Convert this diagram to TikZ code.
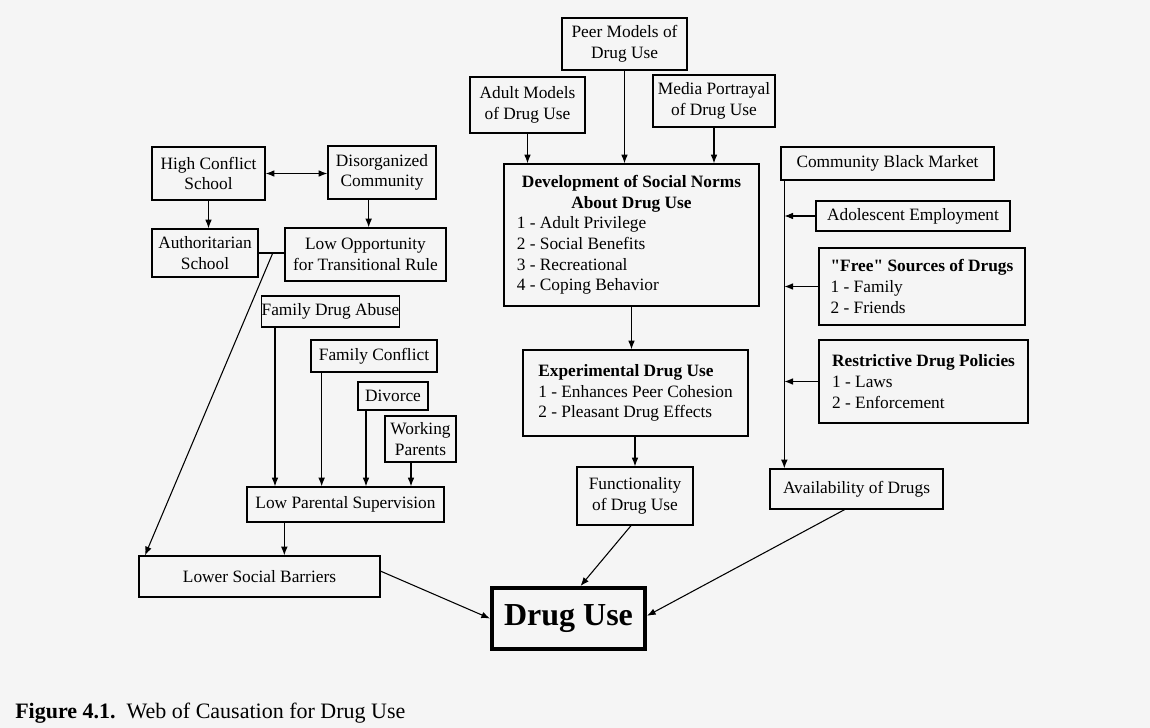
\documentclass[tikz,border=0pt]{standalone}
\usepackage{fontspec}
\setmainfont{Liberation Serif}
\usetikzlibrary{calc,arrows.meta}
\newcommand{\sq}{\XeTeXglyph\XeTeXglyphindex "quotedbl"\relax}
\begin{document}
\begin{tikzpicture}[x=0.75pt,y=-0.75pt,
  rect/.style n args={4}{at={({(#1+#3)/2},{(#2+#4)/2})}, minimum width={(#3-#1)*0.75pt}, minimum height={(#4-#2)*0.75pt}},
  box/.style={draw, line width=1pt, inner sep=0pt, align=center, font=\fontsize{13}{15.5}\selectfont},
  lbox/.style={box, align=left},
  arr/.style={line width=0.8pt, -{Latex[length=6.5pt,width=5pt]}},
  dbl/.style={line width=0.8pt, {Latex[length=6.5pt,width=5pt]}-{Latex[length=6.5pt,width=5pt]}},
  ln/.style={line width=0.8pt}]
\fill[black!4] (0,0) rectangle (1150,728);
\useasboundingbox (0,0) rectangle (1150,728);

% top cluster
\node[box, rect={562}{18}{687}{70}] (pm) {Peer Models of\\Drug Use};
\node[box, rect={470}{77}{585}{133}] (am) {Adult Models\\of Drug Use};
\node[box, rect={653}{75}{775}{127}] (mp) {Media Portrayal\\of Drug Use};
\node[box, rect={504}{164}{759}{306}] (sn) {\begin{minipage}{172pt}\centering\bfseries Development of Social Norms\\About Drug Use\par\raggedright\mdseries 1 - Adult Privilege\\2 - Social Benefits\\3 - Recreational\\4 - Coping Behavior\end{minipage}};
\node[lbox, rect={523}{350}{748}{436}] (ex) {\textbf{Experimental Drug Use}\\1 - Enhances Peer Cohesion\\2 - Pleasant Drug Effects};
\node[box, rect={577}{467}{693}{525}] (fu) {Functionality\\of Drug Use};

% left cluster
\node[box, rect={152}{147}{265}{200}] (hc) {High Conflict\\School};
\node[box, rect={328}{146}{436}{199}] (dc) {Disorganized\\Community};
\node[box, rect={152}{229}{258}{277}] (ao) {Authoritarian\\School};
\node[box, rect={285}{228}{446}{281}] (lo) {Low Opportunity\\for Transitional Rule};
\node[box, rect={263}{296}{398}{327}] (fda) {Family Drug Abuse};
\node[box, rect={311}{340}{437}{372}] (fc) {Family Conflict};
\node[box, rect={358}{382}{428}{410}] (dv) {Divorce};
\node[box, rect={385}{416}{456}{462}] (wp) {Working\\Parents};
\node[box, rect={247}{487}{444}{522}] (lps) {Low Parental Supervision};
\node[box, rect={139}{556}{380}{597}] (lsb) {Lower Social Barriers};

% right cluster
\node[box, rect={781}{147}{994}{180}] (cbm) {Community Black Market};
\node[box, rect={816}{201}{1010}{231}] (ae) {Adolescent Employment};
\node[lbox, rect={819}{248}{1025}{325}] (fs) {\textbf{\sq Free\sq{} Sources of Drugs}\\1 - Family\\2 - Friends};
\node[lbox, rect={819}{340}{1028}{423}] (rd) {\textbf{Restrictive Drug Policies}\\1 - Laws\\2 - Enforcement};
\node[box, rect={770}{469}{943}{509}] (av) {Availability of Drugs};

% outcome
\node[draw, line width=3pt, inner sep=0pt, rect={492}{588}{645}{649}, font=\fontsize{24}{28}\selectfont\bfseries] (du) {Drug Use};

\node[anchor=base west, inner sep=0pt, font=\fontsize{16.5}{19}\selectfont] (cap) at (15,718) {\textbf{Figure 4.1.}\ \ Web of Causation for Drug Use};

% connectors: top
\draw[arr] (am.south) -- (am.south |- sn.north);
\draw[arr] (pm.south) -- (pm.south |- sn.north);
\draw[arr] (mp.south) -- (mp.south |- sn.north);
\draw[arr] (sn.south) -- (sn.south |- ex.north);
\draw[arr] (ex.south -| fu.north) -- (fu.north);
\draw[arr] ([xshift=-3pt]fu.south) -- ([xshift=9pt]du.north);

% connectors: left
\draw[dbl] (hc.east) -- (hc.east -| dc.west);
\draw[arr] (hc.south) -- (hc.south |- ao.north);
\draw[arr] ([xshift=-10pt]dc.south) coordinate (d1) -- (d1 |- lo.north);
\draw[ln] (ao.east) -- (ao.east -| lo.west);
\coordinate (j) at ($(ao.east)!0.55!(ao.east -| lo.west)$);
\draw[arr] (j) -- ([xshift=5pt]lsb.north west);
\draw[arr] ([xshift=10.5pt]fda.south west) coordinate (a1) -- (a1 |- lps.north);
\draw[arr] ([xshift=8.5pt]fc.south west) coordinate (a2) -- (a2 |- lps.north);
\draw[arr] ([xshift=6.5pt]dv.south west) coordinate (a3) -- (a3 |- lps.north);
\draw[arr] ([xshift=20pt]wp.south west) coordinate (a4) -- (a4 |- lps.north);
\draw[arr] ([xshift=28.5pt]lps.south west) coordinate (a5) -- (a5 |- lsb.north);
\draw[arr] ([yshift=4pt]lsb.east) -- (du.west);

% connectors: right
\coordinate (vx) at ([xshift=3pt]cbm.south west);
\draw[arr] (vx) -- (vx |- av.north);
\draw[arr] (ae.west) -- (ae.west -| vx);
\draw[arr] (fs.west) -- (fs.west -| vx);
\draw[arr] (rd.west) -- (rd.west -| vx);
\draw[arr] ([xshift=-9pt]av.south) -- ([yshift=2pt]du.east);
\end{tikzpicture}
\end{document}
